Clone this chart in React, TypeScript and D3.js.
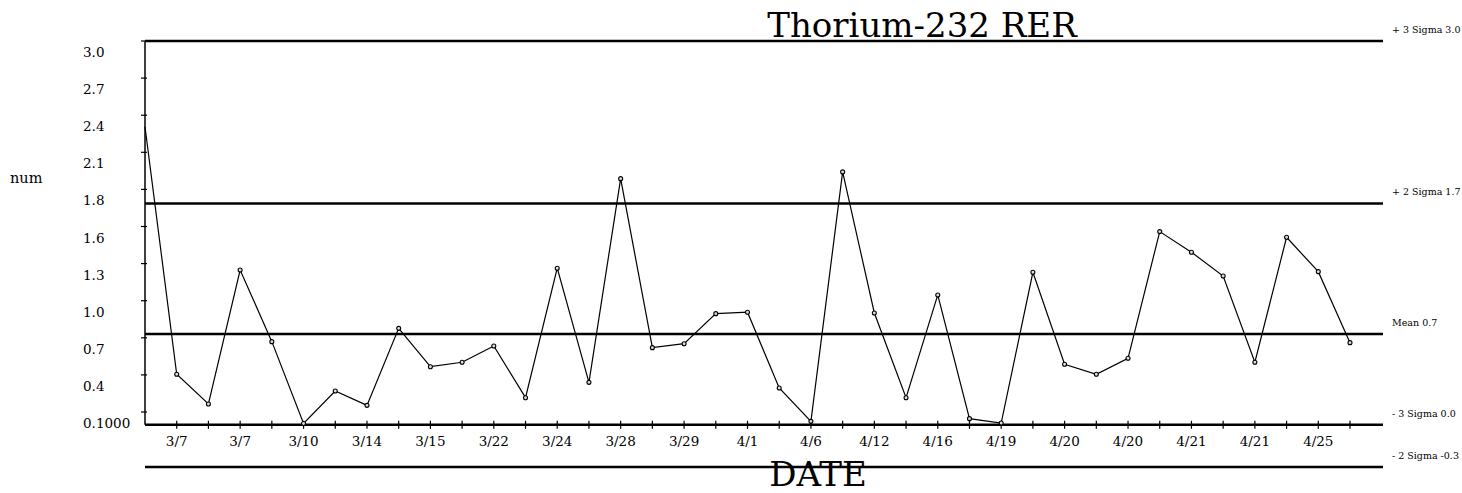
import { line, scaleLinear } from "d3";
import React from "react";

// chart values
const dates = [
  "", "3/7", "", "3/7", "", "3/10", "", "3/14", "", "3/15", "", "3/22", "", "3/24",
  "", "3/28", "", "3/29", "", "4/1", "", "4/6", "", "4/12", "", "4/16", "", "4/19",
  "", "4/20", "", "4/20", "", "4/21", "", "4/21", "", "4/25", "",
];
const values = [
  2.33, 0.395, 0.163, 1.21, 0.65, 0.01, 0.264, 0.152, 0.754, 0.454, 0.489, 0.616,
  0.212, 1.224, 0.332, 1.924, 0.603, 0.634, 0.869, 0.88, 0.288, 0.027, 1.977, 0.874,
  0.212, 1.015, 0.048, 0.014, 1.192, 0.473, 0.395, 0.52, 1.51, 1.349, 1.163, 0.489,
  1.466, 1.197, 0.642,
];
const yTickValues = [3.0, 2.71, 2.42, 2.13, 1.84, 1.55, 1.26, 0.97, 0.68, 0.39, 0.1];
const yTickLabels = ["3.0", "2.7", "2.4", "2.1", "1.8", "1.6", "1.3", "1.0", "0.7", "0.4", "0.1000"];
const limitLabels = ["+ 3 Sigma 3.0", "+ 2 Sigma 1.7", "Mean 0.7", "- 3 Sigma 0.0", "- 2 Sigma -0.3"];
const limitValues = [3.0, 1.73, 0.71, 0.0, -0.33];

const width = 1462;
const height = 493;
const margin = { left: 145, right: 79, top: 41, bottom: 68 };
const plotRight = width - margin.right;
const font = "'DejaVu Serif', 'Liberation Serif', serif";

const xScale = scaleLinear()
  .domain([0, values.length - 1])
  .range([margin.left, 1350]);
const yScale = scaleLinear().domain([0, 3.0]).range([424.8, margin.top]);

const path = line<number>()
  .x((_, i) => xScale(i))
  .y((d) => yScale(d));

export default function App() {
  return (
    <svg
      width={width}
      height={height}
      viewBox={`0 0 ${width} ${height}`}
      style={{ position: "absolute", left: 0, top: 0, background: "white" }}
      fontFamily={font}
    >
      {/* control limit lines */}
      {limitValues.map((v, i) => (
        <g key={limitLabels[i]}>
          <line
            x1={margin.left}
            x2={plotRight}
            y1={yScale(v)}
            y2={yScale(v)}
            stroke="black"
            strokeWidth={2.6}
          />
          <text x={1392} y={yScale(v) - 8} fontSize={9.5} fill="black">
            {limitLabels[i]}
          </text>
        </g>
      ))}

      {/* y axis */}
      <line x1={margin.left} x2={margin.left} y1={margin.top} y2={yScale(0)} stroke="black" strokeWidth={1.5} />
      {yTickValues.map((v, i) => (
        <g key={i}>
          <line x1={margin.left - 4} x2={margin.left + 2} y1={yScale(v)} y2={yScale(v)} stroke="black" strokeWidth={1.2} />
          <text x={83} y={yScale(v) + 16} fontSize={13.5} fill="black">
            {yTickLabels[i]}
          </text>
        </g>
      ))}

      {/* x ticks */}
      {dates.map((d, i) =>
        i === 0 ? null : (
          <g key={i}>
            <line x1={xScale(i)} x2={xScale(i)} y1={yScale(0) - 4} y2={yScale(0) + 4} stroke="black" strokeWidth={1.2} />
            {d && (
              <text x={xScale(i)} y={446} fontSize={13.5} textAnchor="middle" fill="black">
                {d}
              </text>
            )}
          </g>
        )
      )}

      {/* data */}
      <path d={path(values) ?? ""} fill="none" stroke="black" strokeWidth={1.2} />
      {values.map((v, i) =>
        i === 0 ? null : (
          <circle key={i} cx={xScale(i)} cy={yScale(v)} r={2} fill="#ddd" stroke="black" strokeWidth={1.1} />
        )
      )}

      {/* titles */}
      <text x={922} y={37} fontSize={34} textAnchor="middle" fill="black">
        Thorium-232 RER
      </text>
      <text x={818} y={486} fontSize={34} textAnchor="middle" fill="black">
        DATE
      </text>
      <text x={10} y={183} fontSize={14.5} fill="black">
        num
      </text>
    </svg>
  );
}
